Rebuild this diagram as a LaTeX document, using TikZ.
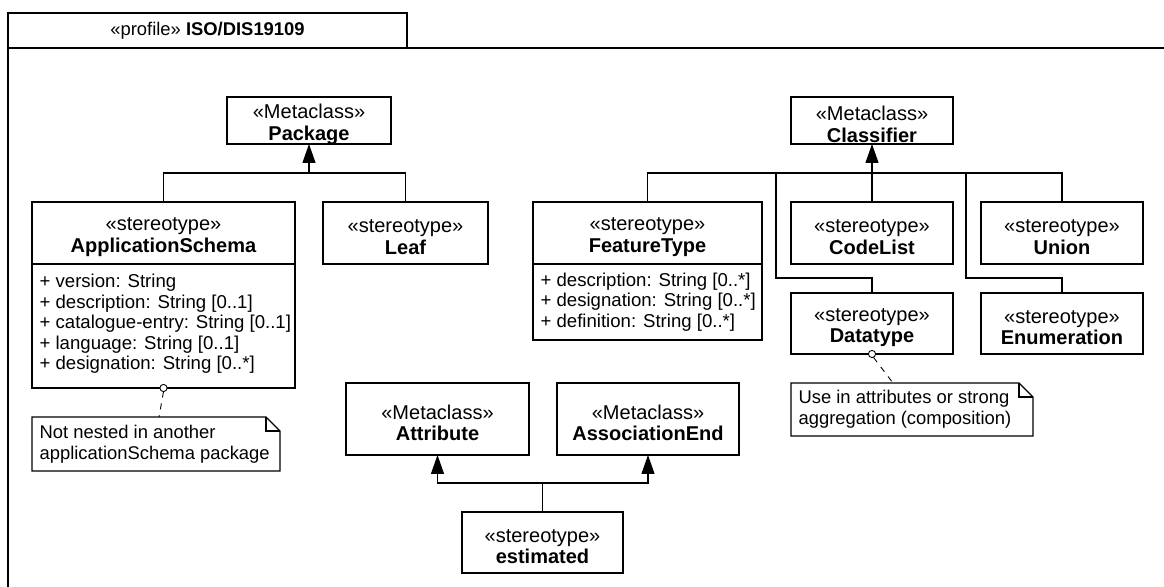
\documentclass[tikz,border=0pt]{standalone}
\usepackage{fontspec}
\setmainfont{Liberation Sans}
\usetikzlibrary{arrows.meta,fit,calc}
\begin{document}
\begin{tikzpicture}[x=0.5pt,y=-0.5pt,
  line width=0.6pt,
  plain/.style={inner sep=0pt, outer sep=0pt},
  box/.style={draw, inner sep=0pt, outer sep=0pt},
  lbl/.style={inner sep=0pt, align=center, yshift=-2pt, font=\fontsize{10}{10.8}\selectfont},
  attrs/.style={anchor=west, inner sep=0pt, align=left, font=\fontsize{9.3}{10.25}\selectfont},
  notetext/.style={anchor=west, inner sep=0pt, align=left, font=\fontsize{9.2}{10.6}\selectfont},
  gen/.style={-{Triangle[length=9.5pt,width=6.5pt]}},
  link/.style={dash pattern=on 3pt off 3pt, line width=0.45pt},
  pin/.style={draw, fill=white, line width=0.45pt},
]
\useasboundingbox (0,0) rectangle (1164,587);

% profile frame with its name tab
\node[draw, plain, fit={(8,13) (407,48)}] (tab) {};
\node[font=\fontsize{9.2}{11}\selectfont, inner sep=0pt] (title) at (tab.center) {«profile» \textbf{ISO/DIS19109}};
\coordinate (frameBL) at (8,587);
\coordinate (frameTR) at (1164,48);
\draw (frameBL) -- (tab.south west) -- (frameTR);

% metaclasses
\node[box, fit={(227,97) (391,144)}] (pkg) {};
\node[lbl] (pkgL) at (pkg.center) {«Metaclass»\\\textbf{Package}};
\node[box, fit={(791,97) (953,144)}] (cls) {};
\node[lbl] (clsL) at (cls.center) {«Metaclass»\\\textbf{Classifier}};
\node[box, fit={(346,383) (529,455)}] (attr) {};
\node[lbl] (attrL) at (attr.center) {«Metaclass»\\\textbf{Attribute}};
\node[box, fit={(557,383) (739,455)}] (assoc) {};
\node[lbl] (assocL) at (assoc.center) {«Metaclass»\\\textbf{AssociationEnd}};

% stereotypes
\node[box, fit={(32,202) (295,264)}] (appH) {};
\node[lbl] (appL) at (appH.center) {«stereotype»\\\textbf{ApplicationSchema}};
\node[box, fit={(32,264) (295,388)}] (appA) {};
\node[attrs] (appT) at ($(appA.west)+(7,-2)$) {+ version: String\\+ description: String [0..1]\\+ catalogue-entry: String [0..1]\\+ language: String [0..1]\\+ designation: String [0..*]};

\node[box, fit={(323,202) (488,264)}] (leaf) {};
\node[lbl] (leafL) at (leaf.center) {«stereotype»\\\textbf{Leaf}};

\node[box, fit={(533,202) (762,264)}] (ftH) {};
\node[lbl] (ftL) at (ftH.center) {«stereotype»\\\textbf{FeatureType}};
\node[box, fit={(533,264) (762,340)}] (ftA) {};
\node[attrs] (ftT) at ($(ftA.west)+(7,0)$) {+ description: String [0..*]\\+ designation: String [0..*]\\+ definition: String [0..*]};

\node[box, fit={(791,202) (953,264)}] (code) {};
\node[lbl] (codeL) at (code.center) {«stereotype»\\\textbf{CodeList}};
\node[box, fit={(981,202) (1143,264)}] (union) {};
\node[lbl] (unionL) at (union.center) {«stereotype»\\\textbf{Union}};
\node[box, fit={(791,293) (953,354)}] (dt) {};
\node[lbl] (dtL) at (dt.center) {«stereotype»\\\textbf{Datatype}};
\node[box, fit={(981,293) (1143,354)}] (enum) {};
\node[lbl] (enumL) at (enum.center) {«stereotype»\\\textbf{Enumeration}};
\node[box, fit={(462,512) (623,573)}] (est) {};
\node[lbl] (estL) at (est.center) {«stereotype»\\\textbf{estimated}};

% generalizations towards Package
\coordinate (pj) at (309,173);
\draw (appH.north) |- (pj);
\draw (leaf.north) |- (pj);
\draw[gen] (pj) -- (pkg.south);

% generalizations towards Classifier
\coordinate (cj) at (872,173);
\coordinate (dtk) at (776,278);
\coordinate (enk) at (966,278);
\draw (ftH.north) |- (cj);
\draw (union.north) |- (cj);
\draw (dt.north) |- (dtk) |- (cj);
\draw (enum.north) |- (enk) |- (cj);
\draw[gen] (code.north) -- (cls.south);

% estimated extends Attribute and AssociationEnd
\coordinate (ej) at (542.5,483);
\draw (est.north) -- (ej);
\draw[gen] (ej) -| (attr.south);
\draw[gen] (ej) -| (assoc.south);

% notes
\node[plain, fit={(32,417) (280,471)}] (n1) {};
\draw (n1.north west) -- ($(n1.north east)+(-14,0)$) -- ($(n1.north east)+(0,14)$) -- (n1.south east) -- (n1.south west) -- cycle;
\draw ($(n1.north east)+(-14,0)$) |- ($(n1.north east)+(0,14)$);
\node[notetext] (n1t) at ($(n1.west)+(7,0)$) {Not nested in another\\applicationSchema package};

\node[plain, fit={(791,383) (1033,436)}] (n2) {};
\draw (n2.north west) -- ($(n2.north east)+(-14,0)$) -- ($(n2.north east)+(0,14)$) -- (n2.south east) -- (n2.south west) -- cycle;
\draw ($(n2.north east)+(-14,0)$) |- ($(n2.north east)+(0,14)$);
\node[notetext] (n2t) at ($(n2.west)+(7,0)$) {Use in attributes or strong\\aggregation (composition)};

% note anchors
\draw[link] ($(appA.south)+(0,3.6)$) -- ($(n1.north)+(3,0)$);
\draw[pin] (appA.south) circle[radius=1.8pt];
\draw[link] ($(dt.south)+(1.5,3.4)$) -- ($(n2.north)+(-19,0)$);
\draw[pin] (dt.south) circle[radius=1.8pt];
\end{tikzpicture}
\end{document}
